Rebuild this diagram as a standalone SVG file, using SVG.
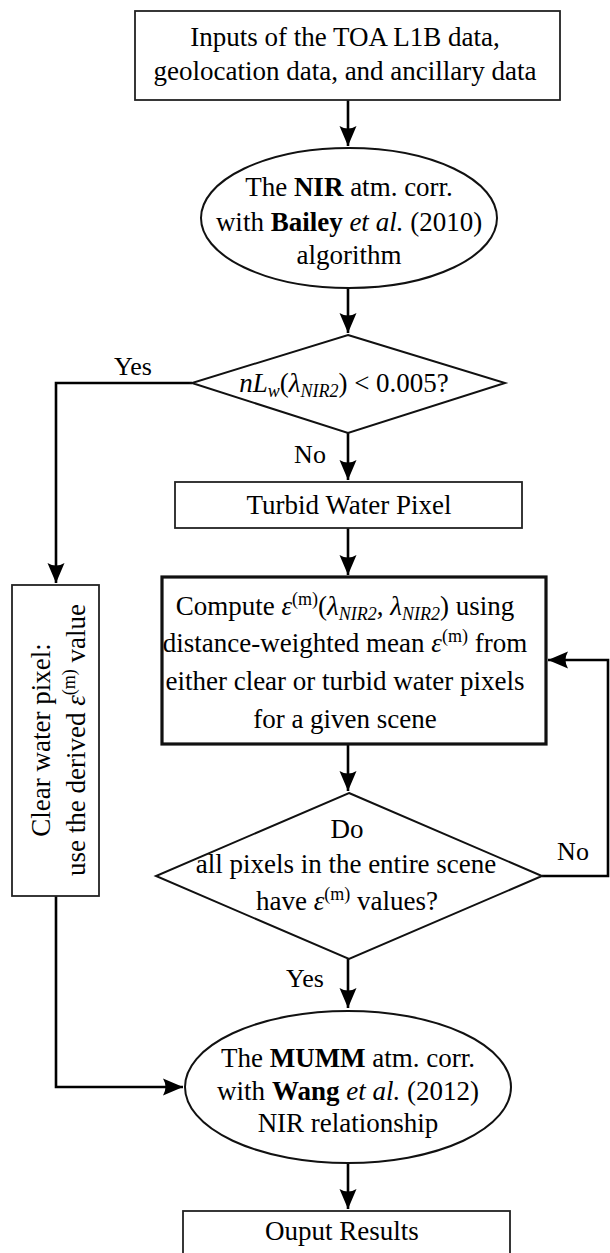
<svg xmlns="http://www.w3.org/2000/svg" width="610" height="1253" viewBox="0 0 610 1253">
<defs>
<style>
text{font-family:"Liberation Serif","Times New Roman",serif;font-size:27px;fill:#000;text-anchor:middle}
.lbl{font-size:26px}
.it{font-style:italic}
.b{font-weight:bold}
.sm{font-size:18px}
.box{fill:#fff;stroke:#222;stroke-width:1.8}
.thick{fill:#fff;stroke:#111;stroke-width:3.2}
.shape{fill:#fff;stroke:#111;stroke-width:2}
.conn{fill:none;stroke:#000;stroke-width:2.6}
</style>
<marker id="ah" markerUnits="userSpaceOnUse" markerWidth="24" markerHeight="20" refX="20" refY="9" orient="auto" viewBox="0 0 24 20">
<path d="M20,9 L0,0.5 Q5,9 0,17.5 Z" fill="#000"/>
</marker>
</defs>
<g id="connectors">
<path class="conn" d="M348,100 V146" marker-end="url(#ah)"/>
<path class="conn" d="M348,288 V333" marker-end="url(#ah)"/>
<path class="conn" d="M348,433 V480" marker-end="url(#ah)"/>
<path class="conn" d="M348,528 V575" marker-end="url(#ah)"/>
<path class="conn" d="M348,744 V791" marker-end="url(#ah)"/>
<path class="conn" d="M348,959 V1008" marker-end="url(#ah)"/>
<path class="conn" d="M348,1163 V1209" marker-end="url(#ah)"/>
<path class="conn" d="M192,383 H56 V583" marker-end="url(#ah)"/>
<path class="conn" d="M542,876 H608 V660 H548" marker-end="url(#ah)"/>
<path class="conn" d="M56,896 V1087 H183" marker-end="url(#ah)"/>
<text class="lbl" x="133" y="375">Yes</text>
<text class="lbl" x="310" y="463">No</text>
<text class="lbl" x="573" y="860">No</text>
<text class="lbl" x="305" y="987">Yes</text>
</g>
<g id="inputs">
<rect class="box" x="135" y="11" width="425" height="89"/>
<text x="345" y="46">Inputs of the TOA L1B data,</text>
<text x="345" y="80">geolocation data, and ancillary data</text>
</g>
<g id="nir-corr">
<ellipse class="shape" cx="349" cy="218" rx="148" ry="70"/>
<text x="349" y="196">The <tspan class="b">NIR</tspan> atm. corr.</text>
<text x="349" y="231">with <tspan class="b">Bailey</tspan> <tspan class="it">et al.</tspan> (2010)</text>
<text x="349" y="264">algorithm</text>
</g>
<g id="decision-nlw">
<polygon class="shape" points="348,335 505,383 348,433 192,383"/>
<text x="344" y="392"><tspan class="it">nL</tspan><tspan class="it sm" dy="5">w</tspan><tspan dy="-5">(</tspan><tspan class="it">λ</tspan><tspan class="it sm" dy="5">NIR2</tspan><tspan dy="-5">) &lt; 0.005?</tspan></text>
</g>
<g id="turbid">
<rect class="box" x="175" y="482" width="347" height="46"/>
<text x="349" y="514">Turbid Water Pixel</text>
</g>
<g id="compute">
<rect class="thick" x="162" y="577" width="384" height="167"/>
<text x="345" y="615">Compute <tspan class="it">ε</tspan><tspan class="sm" dy="-10">(m)</tspan><tspan dy="10">(</tspan><tspan class="it">λ</tspan><tspan class="it sm" dy="5">NIR2</tspan><tspan dy="-5">, </tspan><tspan class="it">λ</tspan><tspan class="it sm" dy="5">NIR2</tspan><tspan dy="-5">) using</tspan></text>
<text x="345" y="652">distance-weighted mean <tspan class="it">ε</tspan><tspan class="sm" dy="-10">(m)</tspan><tspan dy="10"> from</tspan></text>
<text x="345" y="690">either clear or turbid water pixels</text>
<text x="345" y="728">for a given scene</text>
</g>
<g id="decision-all">
<polygon class="shape" points="349,793 542,876 349,959 156,876"/>
<text x="347" y="838">Do</text>
<text x="346" y="873">all pixels in the entire scene</text>
<text x="347" y="910">have <tspan class="it">ε</tspan><tspan class="sm" dy="-10">(m)</tspan><tspan dy="10"> values?</tspan></text>
</g>
<g id="clear">
<rect class="box" x="12" y="585" width="87" height="311"/>
<text transform="translate(50,740) rotate(-90)">Clear water pixel:</text>
<text transform="translate(85,740) rotate(-90)">use the derived <tspan class="it">ε</tspan><tspan class="sm" dy="-10">(m)</tspan><tspan dy="10"> value</tspan></text>
</g>
<g id="mumm">
<ellipse class="shape" cx="348" cy="1087" rx="163" ry="76"/>
<text x="348" y="1067">The <tspan class="b">MUMM</tspan> atm. corr.</text>
<text x="348" y="1100">with <tspan class="b">Wang</tspan> <tspan class="it">et al.</tspan> (2012)</text>
<text x="348" y="1132">NIR relationship</text>
</g>
<g id="output">
<rect class="box" x="183" y="1211" width="327" height="50"/>
<text x="342" y="1240">Ouput Results</text>
</g>
</svg>
